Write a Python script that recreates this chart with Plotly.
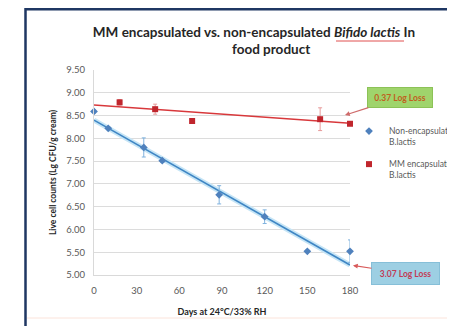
import plotly.graph_objects as go

# ---- data ----
non_days = [0, 10, 35, 48, 88, 120, 150, 180]
non_vals = [8.59, 8.22, 7.80, 7.51, 6.76, 6.28, 5.52, 5.52]
non_err = [0.03, 0.03, 0.21, 0.03, 0.20, 0.15, 0.02, 0.25]

mm_days = [18, 43, 69, 159, 180]
mm_vals = [8.79, 8.64, 8.38, 8.42, 8.32]
mm_err = [0.06, 0.11, 0.03, 0.25, 0.03]

trend_days = [0, 180]
non_trend = [8.40, 5.22]
mm_trend = [8.73, 8.33]

x_ticks = [0, 30, 60, 90, 120, 150, 180]
y_ticks = [5.0, 5.5, 6.0, 6.5, 7.0, 7.5, 8.0, 8.5, 9.0, 9.5]

# page has an 8px body margin; figure is sized so the page is 455x326
OFF = 8
W, H = 455 - OFF, 326 - OFF
ML, MT = 94 - OFF, 70 - OFF
MR = W - (350 - OFF)
MB = H - (275 - OFF)
PW, PH = W - ML - MR, H - MT - MB


def PX(x):  # page pixel -> paper
    return (x - OFF - ML) / PW


def PY(y):
    return 1 - (y - OFF - MT) / PH


FONT = "Lato"
BLUE = "#4f81bd"
RED = "#c0262d"

fig = go.Figure()

fig.add_trace(go.Scatter(x=trend_days, y=non_trend, mode="lines",
                         line=dict(color="#c6e5f6", width=5), showlegend=False,
                         hoverinfo="skip", cliponaxis=False))
fig.add_trace(go.Scatter(x=trend_days, y=non_trend, mode="lines",
                         line=dict(color="#3f86c4", width=1.6), showlegend=False,
                         hoverinfo="skip", cliponaxis=False))
fig.add_trace(go.Scatter(x=trend_days, y=mm_trend, mode="lines",
                         line=dict(color="#d8383b", width=1.5), showlegend=False,
                         hoverinfo="skip", cliponaxis=False))

fig.add_trace(go.Scatter(
    x=non_days, y=non_vals, mode="markers", name="Non-encapsulated<br>B.lactis",
    legendgroup="a",
    marker=dict(symbol="diamond", size=6, color=BLUE),
    error_y=dict(type="data", array=non_err, color="#7fb2de", thickness=1, width=2),
    cliponaxis=False))
fig.add_trace(go.Scatter(
    x=mm_days, y=mm_vals, mode="markers", name="MM encapsulated<br>B.lactis",
    legendgroup="b",
    marker=dict(symbol="square", size=6, color=RED),
    error_y=dict(type="data", array=mm_err, color="#e79a9a", thickness=1, width=2),
    cliponaxis=False))

annotations = [
    dict(text="<b>food product</b>", xref="paper", yref="paper",
         x=PX(271), y=PY(49), xanchor="center", yanchor="middle", showarrow=False,
         font=dict(family=FONT, size=13.5, color="#262626")),
    dict(text="<b>0.37 Log Loss</b>", x=176.5, y=8.51, xref="x", yref="y",
         ax=54.5, ay=-17.5, showarrow=True, arrowhead=2, arrowsize=0.8,
         arrowwidth=1.2, arrowcolor="#cf6b6b",
         bgcolor="#9fd46c", bordercolor="#8cc257", borderwidth=1, borderpad=2,
         width=60, height=15,
         font=dict(family=FONT, size=8.5, color="#c0601e")),
    dict(text="<b>3.07 Log Loss</b>", x=180, y=5.22, xref="x", yref="y",
         ax=55.5, ay=8.5, showarrow=True, arrowhead=2, arrowsize=0.8,
         arrowwidth=1.2, arrowcolor="#d85a5a", standoff=3,
         bgcolor="#9dcfe3", bordercolor="#86bfd8", borderwidth=1, borderpad=2,
         width=63, height=17,
         font=dict(family=FONT, size=8.5, color="#c23b55")),
]

shapes = [
    dict(type="rect", xref="paper", yref="paper",
         x0=PX(25.5), x1=PX(490), y0=PY(9.3), y1=PY(360),
         line=dict(color="#1f3763", width=2.5), layer="above"),
    dict(type="line", xref="paper", yref="paper",
         x0=PX(27), x1=PX(455), y0=PY(318), y1=PY(318),
         line=dict(color="#fbe3da", width=1)),
    dict(type="line", xref="paper", yref="paper",
         x0=PX(336), x1=PX(404), y0=PY(41), y1=PY(41),
         line=dict(color="#e05050", width=1)),
]

fig.update_layout(
    width=W, height=H,
    margin=dict(l=ML, r=MR, t=MT, b=MB, autoexpand=False),
    paper_bgcolor="white", plot_bgcolor="white",
    font=dict(family=FONT, size=9.5, color="#595959"),
    title=dict(text="<b>MM encapsulated vs. non-encapsulated <i>Bifido lactis</i> In</b>",
               x=PX(254), xref="paper", xanchor="center",
               y=1 - (32 - OFF) / H, yref="container", yanchor="middle",
               font=dict(family=FONT, size=13.5, color="#262626")),
    xaxis=dict(range=[0, 180], tickvals=x_ticks, showgrid=False, zeroline=False,
               showline=True, linecolor="#d9d9d9", linewidth=1,
               ticks="outside", ticklen=7, tickcolor="rgba(0,0,0,0)",
               tickfont=dict(family=FONT, size=9.5, color="#595959"),
               title=dict(text="<b>Days at 24°C/33% RH</b>", standoff=13,
                          font=dict(family=FONT, size=9, color="#262626")),
               automargin=False),
    yaxis=dict(range=[5.0, 9.5], tickvals=y_ticks, tickformat=".2f",
               showgrid=True, gridcolor="#dcdcdc", gridwidth=1, zeroline=False,
               showline=True, linecolor="#d9d9d9", linewidth=1,
               ticks="outside", ticklen=6, tickcolor="rgba(0,0,0,0)",
               tickfont=dict(family=FONT, size=9.5, color="#595959"),
               title=dict(text="<b>Live cell counts (Lg CFU/g cream)</b>", standoff=8,
                          font=dict(family=FONT, size=8.5, color="#262626")),
               automargin=False),
    legend=dict(x=PX(349), y=PY(119), xanchor="left", yanchor="top",
                xref="paper", yref="paper", valign="top",
                font=dict(family=FONT, size=8.5, color="#595959"),
                bgcolor="rgba(0,0,0,0)", tracegroupgap=8, itemwidth=30),
    annotations=annotations,
    shapes=shapes,
)

fig.write_html("out.html")
